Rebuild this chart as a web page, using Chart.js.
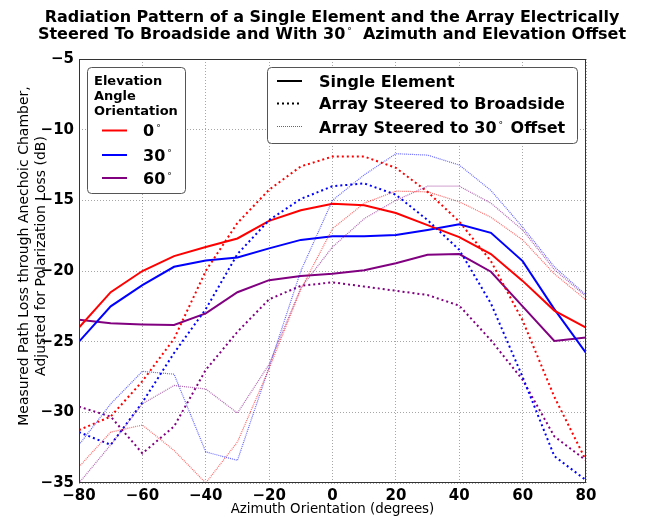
<!DOCTYPE html>
<html>
<head>
<meta charset="utf-8">
<script src="https://cdn.jsdelivr.net/npm/chart.js@4.4.0/dist/chart.umd.min.js"></script>
<style>
    html, body { margin: 0; padding: 0; background: #fff; }
    #wrap { width: 647px; height: 519px; }
</style>
</head>
<body>
<div id="wrap"><canvas id="patternChart" width="647" height="519"></canvas></div>
<script>
// azimuth angles (degrees)
const azimuth = [-80, -70, -60, -50, -40, -30, -20, -10, 0, 10, 20, 30, 40, 50, 60, 70, 80];

// single element, by elevation
const single0 = [-24.0, -21.5, -20.0, -18.95, -18.3, -17.7, -16.45, -15.7, -15.25, -15.35, -15.9, -16.75, -17.6, -18.8, -20.7, -22.8, -24.0];
const single30 = [-25.0, -22.5, -21.0, -19.7, -19.25, -19.05, -18.4, -17.8, -17.55, -17.55, -17.45, -17.1, -16.7, -17.3, -19.3, -22.7, -25.8];
const single60 = [-23.45, -23.7, -23.78, -23.82, -23.0, -21.5, -20.65, -20.35, -20.2, -19.95, -19.45, -18.85, -18.8, -20.05, -22.5, -24.95, -24.7];

// array steered to broadside
const broad0 = [-31.25, -30.3, -27.8, -24.8, -20.0, -16.6, -14.25, -12.6, -11.9, -11.9, -12.7, -14.4, -16.5, -19.3, -23.5, -28.9, -33.4];
const broad30 = [-31.4, -32.3, -29.3, -25.8, -22.7, -18.8, -16.4, -14.9, -14.0, -13.8, -14.6, -16.4, -18.5, -22.3, -27.5, -33.1, -34.8];
const broad60 = [-29.6, -30.3, -32.9, -31.0, -27.0, -24.3, -22.0, -21.05, -20.8, -21.1, -21.4, -21.7, -22.45, -24.9, -27.7, -31.7, -33.4];

// array steered to 30 deg offset
const offset0 = [-33.85, -31.4, -30.9, -32.7, -35.0, -32.1, -26.9, -21.3, -17.0, -15.2, -14.35, -14.4, -15.1, -16.2, -17.8, -20.2, -22.05];
const offset30 = [-32.3, -29.4, -27.1, -27.3, -32.8, -33.4, -26.8, -20.0, -15.0, -13.2, -11.7, -11.8, -12.5, -14.3, -16.9, -19.7, -21.7];
const offset60 = [-35.0, -32.3, -29.4, -28.1, -28.35, -30.05, -26.6, -21.2, -18.3, -16.3, -15.0, -14.0, -14.0, -15.2, -17.1, -19.9, -21.8];

const xTicks = [-80, -60, -40, -20, 0, 20, 40, 60, 80];
const yTicks = [-35, -30, -25, -20, -15, -10, -5];

const titleLine1 = "Radiation Pattern of a Single Element and the Array Electrically";
const titleLine2 = ["Steered To Broadside and With 30", " Azimuth and Elevation Offset"];
const xTitle = "Azimuth Orientation (degrees)";
const yTitle = ["Measured Path Loss through Anechoic Chamber,", "Adjusted for Polarization Loss (dB)"];

const RED = "#ff0000", BLUE = "#0000ff", PURPLE = "#800080";
const FONT = '"DejaVu Sans", sans-serif';

function series(label, values, color, style) {
    const ds = {
        label: label,
        data: values.map((v, i) => ({ x: azimuth[i], y: v })),
        borderColor: color,
        pointRadius: 0,
        tension: 0,
        fill: false,
    };
    if (style === "solid") {
        ds.borderWidth = 2;
    } else if (style === "broad") {
        ds.borderWidth = 2;
        ds.borderDash = [2, 3];
    } else {
        ds.borderWidth = 1.2;
        ds.borderDash = [1, 1];
        ds.borderColor = color + "99";
    }
    return ds;
}

const fmt = v => (v < 0 ? "\u2212" + Math.abs(v) : String(v));

// bold text followed by a small superscript degree ring, returns end x
function degText(ctx, text, x, y, size) {
    ctx.font = "bold " + size + "px " + FONT;
    ctx.fillText(text, x, y);
    const w = ctx.measureText(text).width;
    ctx.font = "9px " + FONT;
    ctx.fillText("\u00b0", x + w + 2, y - 5);
    return x + w + 2 + ctx.measureText("\u00b0").width;
}

const decor = {
    id: "decor",
    afterDraw(chart) {
        const ctx = chart.ctx;
        const a = chart.chartArea;
        ctx.save();
        // frame
        ctx.strokeStyle = "#333";
        ctx.lineWidth = 1;
        ctx.strokeRect(a.left + 0.5, a.top + 0.5, a.right - a.left - 1, a.bottom - a.top - 1);

        // title
        ctx.fillStyle = "#000";
        ctx.textBaseline = "alphabetic";
        ctx.textAlign = "center";
        ctx.font = "bold 16px " + FONT;
        ctx.fillText(titleLine1, 332, 22);
        ctx.textAlign = "left";
        const w1 = ctx.measureText(titleLine2[0]).width;
        const w2 = ctx.measureText(titleLine2[1]).width;
        const total = w1 + 12 + w2;
        let tx = 332 - total / 2;
        const endDeg = degText(ctx, titleLine2[0], tx, 39, 16);
        ctx.font = "bold 16px " + FONT;
        ctx.fillText(titleLine2[1], tx + w1 + 12, 39);

        // axis titles
        ctx.textAlign = "center";
        ctx.font = "13.4px " + FONT;
        ctx.fillText(xTitle, (a.left + a.right) / 2, 513);
        ctx.save();
        ctx.translate(28, 256);
        ctx.rotate(-Math.PI / 2);
        ctx.font = "14px " + FONT;
        ctx.fillText(yTitle[0], 0, 0);
        ctx.fillText(yTitle[1], 0, 17);
        ctx.restore();

        // elevation legend
        ctx.textAlign = "left";
        ctx.fillStyle = "#fff";
        ctx.strokeStyle = "#555";
        ctx.beginPath();
        ctx.roundRect(87.5, 67.5, 98, 126, 4);
        ctx.fill();
        ctx.stroke();
        ctx.fillStyle = "#000";
        ctx.font = "bold 13px " + FONT;
        ctx.fillText("Elevation", 94, 85);
        ctx.fillText("Angle", 94, 100);
        ctx.fillText("Orientation", 94, 115);
        const elev = [["0", RED, 130.5], ["30", BLUE, 155], ["60", PURPLE, 178]];
        elev.forEach(([t, c, y]) => {
            ctx.strokeStyle = c;
            ctx.lineWidth = 2;
            ctx.beginPath();
            ctx.moveTo(102, y);
            ctx.lineTo(127, y);
            ctx.stroke();
            degText(ctx, t, 143, y + 5.5, 16);
        });

        // style legend
        ctx.fillStyle = "#fff";
        ctx.strokeStyle = "#555";
        ctx.lineWidth = 1;
        ctx.beginPath();
        ctx.roundRect(267.5, 67.5, 310, 76, 4);
        ctx.fill();
        ctx.stroke();
        const rows = [
            [[], 2, "#000", 81],
            [[2, 3], 2, "#000", 103.5],
            [[1, 1], 1.2, "#00000099", 126.5],
        ];
        rows.forEach(([dash, w, c, y]) => {
            ctx.setLineDash(dash);
            ctx.lineWidth = w;
            ctx.strokeStyle = c;
            ctx.beginPath();
            ctx.moveTo(277, y);
            ctx.lineTo(302, y);
            ctx.stroke();
        });
        ctx.setLineDash([]);
        ctx.fillStyle = "#000";
        ctx.font = "bold 16px " + FONT;
        ctx.fillText("Single Element", 319, 86.5);
        ctx.fillText("Array Steered to Broadside", 319, 109);
        const pre = "Array Steered to 30";
        degText(ctx, pre, 319, 132.5, 16);
        ctx.font = "bold 16px " + FONT;
        const pw = ctx.measureText(pre).width;
        ctx.fillText("Offset", 319 + pw + 14, 132.5);
        ctx.restore();
    }
};

const tickFont = { family: FONT, size: 15, weight: "bold" };

new Chart(document.getElementById("patternChart").getContext("2d"), {
    type: "line",
    data: {
        datasets: [
            series("30 offset 0", offset0, RED, "offset"),
            series("30 offset 30", offset30, BLUE, "offset"),
            series("30 offset 60", offset60, PURPLE, "offset"),
            series("Broadside 0", broad0, RED, "broad"),
            series("Broadside 30", broad30, BLUE, "broad"),
            series("Broadside 60", broad60, PURPLE, "broad"),
            series("Single 0", single0, RED, "solid"),
            series("Single 30", single30, BLUE, "solid"),
            series("Single 60", single60, PURPLE, "solid"),
        ],
    },
    options: {
        responsive: false,
        animation: false,
        layout: { padding: { top: 59, right: 61, left: 0, bottom: 0 } },
        plugins: {
            legend: { display: false },
            title: { display: false },
            tooltip: { enabled: false },
        },
        scales: {
            x: {
                type: "linear",
                min: -80,
                max: 80,
                afterFit: s => { s.height = 36; },
                afterBuildTicks: s => { s.ticks = xTicks.map(v => ({ value: v })); },
                ticks: { font: tickFont, color: "#000", padding: 4, maxRotation: 0, callback: fmt },
                grid: { color: "rgba(0,0,0,0.35)", drawTicks: false },
                border: { display: false, dash: [1, 2] },
            },
            y: {
                min: -35,
                max: -5,
                afterFit: s => { s.width = 79; },
                afterBuildTicks: s => { s.ticks = yTicks.map(v => ({ value: v })); },
                ticks: { font: tickFont, color: "#000", padding: 5, callback: fmt },
                grid: { color: "rgba(0,0,0,0.35)", drawTicks: false },
                border: { display: false, dash: [1, 2] },
            },
        },
    },
    plugins: [decor],
});
</script>
</body>
</html>
